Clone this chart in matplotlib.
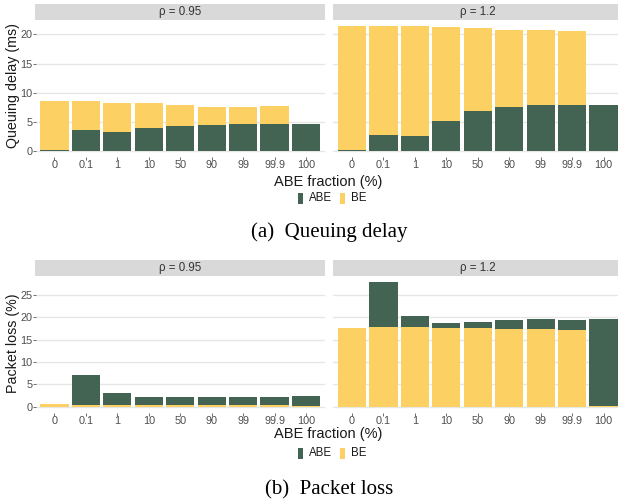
import matplotlib
matplotlib.use("Agg")
import matplotlib.pyplot as plt
from matplotlib.patches import Rectangle

fractions = ["0", "0.1", "1", "10", "50", "90", "99", "99.9", "100"]
rhos = ["ρ = 0.95", "ρ = 1.2"]

# queuing delay (ms): ABE at the bottom, BE stacked on top
delay_abe_095 = [0.1, 3.6, 3.3, 4.0, 4.35, 4.45, 4.6, 4.6, 4.6]
delay_be_095 = [8.5, 5.0, 4.95, 4.25, 3.55, 3.1, 2.95, 3.1, 0.0]
delay_abe_12 = [0.1, 2.75, 2.55, 5.15, 6.85, 7.55, 7.9, 7.9, 7.9]
delay_be_12 = [21.3, 18.65, 18.85, 16.15, 14.25, 13.2, 12.85, 12.7, 0.0]

# packet loss (%): BE at the bottom, ABE stacked on top
loss_be_095 = [0.6, 0.4, 0.35, 0.35, 0.35, 0.35, 0.35, 0.35, 0.2]
loss_abe_095 = [0.0, 6.65, 2.75, 1.85, 1.85, 1.85, 1.85, 1.85, 2.25]
loss_be_12 = [17.6, 17.85, 17.85, 17.6, 17.6, 17.4, 17.4, 17.1, 0.2]
loss_abe_12 = [0.0, 9.95, 2.45, 1.15, 1.35, 2.0, 2.2, 2.3, 19.4]

ABE_COL = "#436353"
BE_COL = "#FDD063"
W, H = 618, 501

plt.rcParams["font.family"] = ["Liberation Sans", "DejaVu Sans"]
fig = plt.figure(figsize=(W / 100, H / 100), dpi=100)


def px_axes(x0, y0, x1, y1):
    return fig.add_axes([x0 / W, 1 - y1 / H, (x1 - x0) / W, (y1 - y0) / H])


def panel(y_top, y_bot, strip_top, data, ylim, yticks, ylabel, ylab_y,
          xtitle_y, leg_y, caption, cap_y):
    lefts = [35.5, 333]
    width = 289.5
    for i, (bottom_vals, top_vals, bottom_col, top_col) in enumerate(data):
        ax = px_axes(lefts[i], y_top, lefts[i] + width, y_bot)
        x = list(range(len(fractions)))
        ax.bar(x, bottom_vals, width=0.9, color=bottom_col, linewidth=0)
        ax.bar(x, top_vals, width=0.9, bottom=bottom_vals, color=top_col, linewidth=0)
        ax.set_xlim(-0.6, len(fractions) - 0.4)
        ax.set_ylim(*ylim)
        ax.set_yticks(yticks)
        ax.set_xticks(x)
        ax.set_xticklabels(fractions)
        ax.yaxis.grid(True, color="#e6e6e6", linewidth=1.0)
        ax.set_axisbelow(True)
        for s in ax.spines.values():
            s.set_visible(False)
        ax.tick_params(colors="#555555", labelcolor="#4d4d4d", labelsize=7.8,
                       length=2, width=0.6, pad=0.3)
        if i == 1:
            ax.tick_params(axis="y", labelleft=False, left=False)
        # facet strip
        sax = px_axes(lefts[i] - 0.5, strip_top, min(lefts[i] + width, W + 5), strip_top + 15.7)
        sax.set_facecolor("#d9d9d9")
        sax.set_xticks([])
        sax.set_yticks([])
        for s in sax.spines.values():
            s.set_visible(False)
        sax.text(0.5, 0.48, rhos[i], ha="center", va="center", fontsize=8.3,
                 color="#333333", transform=sax.transAxes)

    fig.text(13.5 / W, 1 - ylab_y / H, ylabel, ha="center", va="center",
             rotation=90, fontsize=10.3, color="#1a1a1a")
    fig.text(328 / W, 1 - xtitle_y / H, "ABE fraction (%)", ha="center", va="center",
             fontsize=10.5, color="#1a1a1a")
    # legend
    for kx, tx, col, lab in [(298, 309, ABE_COL, "ABE"), (340, 351, BE_COL, "BE")]:
        fig.patches.append(Rectangle((kx / W, 1 - (leg_y + 5.5) / H), 4.5 / W, 11 / H,
                                     transform=fig.transFigure, color=col, linewidth=0))
        fig.text(tx / W, 1 - leg_y / H, lab, ha="left", va="center", fontsize=8.3,
                 color="#1a1a1a")
    fig.text(329 / W, 1 - cap_y / H, caption, ha="center", va="center",
             fontsize=15, family="Liberation Serif", color="black")


panel(20, 157.2, 4, [(delay_abe_095, delay_be_095, ABE_COL, BE_COL),
                     (delay_abe_12, delay_be_12, ABE_COL, BE_COL)],
      (-1.07, 22.47), [0, 5, 10, 15, 20], "Queuing delay (ms)", 86, 182, 198,
      "(a)  Queuing delay", 232)

panel(276, 412.9, 260, [(loss_be_095, loss_abe_095, BE_COL, ABE_COL),
                        (loss_be_12, loss_abe_12, BE_COL, ABE_COL)],
      (-1.39, 29.2), [0, 5, 10, 15, 20, 25], "Packet loss (%)", 343, 434, 453,
      "(b)  Packet loss", 490)

plt.savefig("out.png", dpi=100)
